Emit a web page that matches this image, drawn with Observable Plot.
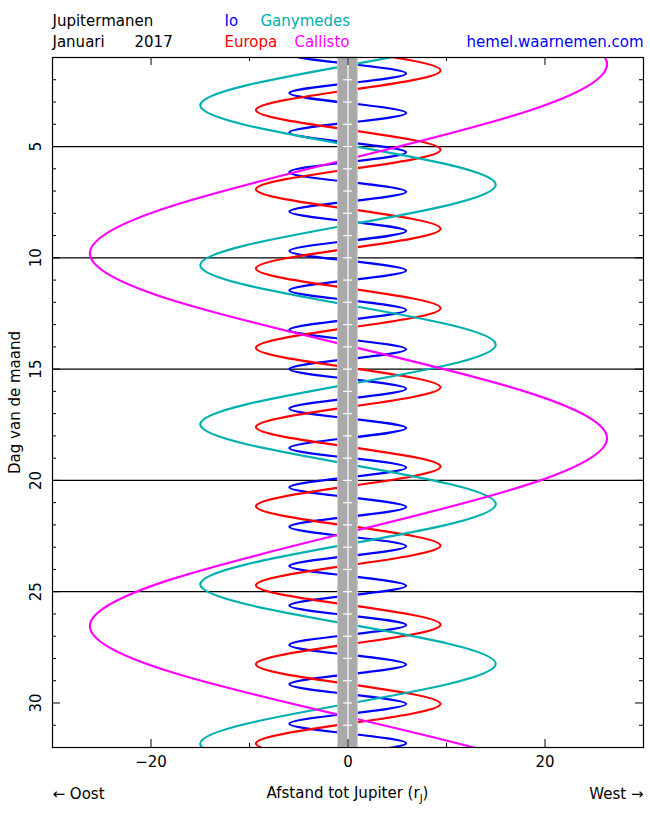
<!DOCTYPE html>
<html><head><meta charset="utf-8">
<script src="https://cdn.jsdelivr.net/npm/d3@7"></script>
<script src="https://cdn.jsdelivr.net/npm/@observablehq/plot@0.6"></script>
<style>body{margin:0;background:#fff} svg{display:block}</style>
</head><body><div id="chart"></div>
<script>
// Moons and colours
const moons = ["Io", "Europa", "Ganymedes", "Callisto"];
const moonColors = ["#0000ff", "#ff0000", "#00b0b0", "#ff00ff"];

// Greatest elongations (first/last two per moon lie just outside the
// plotted month and are estimated): day of January 2017, distance in Jupiter radii (+ = West)
const ioDay = [-0.05, 0.84, 1.72, 2.60, 3.49, 4.37, 5.26, 6.15, 7.03, 7.92, 8.80, 9.69, 10.57, 11.46, 12.34, 13.23, 14.11, 15.00, 15.88, 16.77, 17.65, 18.54, 19.42, 20.31, 21.19, 22.08, 22.96, 23.85, 24.73, 25.62, 26.50, 27.39, 28.27, 29.16, 30.04, 30.93, 31.81, 32.70, 33.58];
const ioX = [5.9, -5.95, 5.9, -5.95, 5.9, -5.95, 5.9, -5.95, 5.9, -5.95, 5.9, -5.95, 5.9, -5.95, 5.9, -5.95, 5.9, -5.95, 5.9, -5.95, 5.9, -5.95, 5.9, -5.95, 5.9, -5.95, 5.9, -5.95, 5.9, -5.95, 5.9, -5.95, 5.9, -5.95, 5.9, -5.95, 5.9, -5.95, 5.9];

const europaDay = [-1.98, -0.20, 1.58, 3.36, 5.14, 6.92, 8.69, 10.48, 12.26, 14.04, 15.82, 17.60, 19.38, 21.16, 22.93, 24.71, 26.48, 28.26, 30.04, 31.82, 33.60, 35.38];
const europaX = [9.4, -9.35, 9.4, -9.35, 9.4, -9.35, 9.4, -9.35, 9.4, -9.35, 9.4, -9.35, 9.4, -9.35, 9.4, -9.35, 9.4, -9.35, 9.4, -9.35, 9.4, -9.35];

const ganymedesDay = [-4.03, -0.45, 3.15, 6.72, 10.33, 13.90, 17.48, 21.06, 24.67, 28.24, 31.83, 35.40, 38.98];
const ganymedesX = [-15.0, 15.0, -15.0, 15.0, -15.0, 15.0, -15.0, 15.0, -15.0, 15.0, -15.0, 15.0, -15.0];

const callistoDay = [-15.7, -7.2, 1.3, 9.8, 18.1, 26.55, 34.7, 43.0];
const callistoX = [26.3, -26.2, 26.3, -26.2, 26.3, -26.2, 26.3, -26.2];

// Axis ticks
const xLabelTicks = [-20, 0, 20];
const xMinorTicks = [-10, 10];
const dayLabelTicks = [5, 10, 15, 20, 25, 30];
const dayGridLines = [5, 10, 15, 20, 25];
const dayMinorTicks = d3.range(2, 32).filter(d => d % 5 !== 0);
const jupiterDayMarks = d3.range(2, 32);
const jupiterDisk = [{x1: -1, x2: 1}];

const series = [
  [moons[0], ioDay, ioX],
  [moons[1], europaDay, europaX],
  [moons[2], ganymedesDay, ganymedesX],
  [moons[3], callistoDay, callistoX]
];
const table = series.flatMap(([moon, days, xs]) => days.map((day, i) => ({moon, day, x: xs[i]})));

const W = 650, H = 813, ML = 52, MR = 7, MT = 57, MB = 66;
const FW = W - ML - MR, FH = H - MT - MB;
const font = "DejaVu Sans";
const fs = 15;
const fmt = d => d < 0 ? "\u2212" + Math.abs(d) : String(d);

const chart = Plot.plot({
  width: W, height: H,
  marginLeft: ML, marginRight: MR, marginTop: MT, marginBottom: MB,
  style: {fontFamily: font, fontSize: fs + "px", background: "#fff"},
  x: {domain: [-30, 30], axis: null},
  y: {domain: [1, 32], reverse: true, axis: null},
  color: {domain: moons, range: moonColors},
  marks: [
    Plot.ruleY(dayGridLines, {y: d => d, stroke: "black", strokeWidth: 1.2}),
    Plot.line(table, {x: "x", y: "day", z: "moon", stroke: "moon", curve: "catmull-rom", strokeWidth: 2.2, clip: true}),
    Plot.rect(jupiterDisk, {x1: "x1", x2: "x2", fill: "#a9a9a9", stroke: "#cfcfcf", strokeWidth: 1}),
    Plot.ruleX([0], {x: d => d, stroke: "white", strokeWidth: 1.2}),
    Plot.ruleY(jupiterDayMarks, {y: d => d, x1: -0.45, x2: 0.45, stroke: "white", strokeWidth: 1.2}),
    Plot.frame({stroke: "black", strokeWidth: 1.2}),
    // inward ticks
    Plot.tickX(xLabelTicks, {x: d => d, insetTop: FH - 8, stroke: "black"}),
    Plot.tickX(xLabelTicks, {x: d => d, insetBottom: FH - 8, stroke: "black"}),
    Plot.tickX(xMinorTicks, {x: d => d, insetTop: FH - 4, stroke: "black"}),
    Plot.tickX(xMinorTicks, {x: d => d, insetBottom: FH - 4, stroke: "black"}),
    Plot.tickY(dayLabelTicks, {y: d => d, insetRight: FW - 8, stroke: "black"}),
    Plot.tickY(dayLabelTicks, {y: d => d, insetLeft: FW - 8, stroke: "black"}),
    Plot.tickY(dayMinorTicks, {y: d => d, insetRight: FW - 4, stroke: "black"}),
    Plot.tickY(dayMinorTicks, {y: d => d, insetLeft: FW - 4, stroke: "black"}),
    // tick labels
    Plot.text(xLabelTicks, {x: d => d, frameAnchor: "bottom", dy: 19, lineAnchor: "bottom", text: fmt, fontSize: fs, fill: "black"}),
    Plot.text(dayLabelTicks, {y: d => d, frameAnchor: "left", dx: -16, rotate: -90, text: fmt, fontSize: fs, textAnchor: "middle", lineAnchor: "middle", fill: "black"}),
    Plot.text(["Dag van de maand"], {frameAnchor: "left", dx: -37, rotate: -90, text: d => d, fontSize: fs, textAnchor: "middle", lineAnchor: "middle", fill: "black"}),
    // header
    Plot.text(["Jupitermanen"], {frameAnchor: "top-left", dy: -32, lineAnchor: "bottom", textAnchor: "start", text: d => d, fontSize: fs, fill: "black"}),
    Plot.text(["Januari"], {frameAnchor: "top-left", dy: -11, lineAnchor: "bottom", textAnchor: "start", text: d => d, fontSize: fs, fill: "black"}),
    Plot.text(["2017"], {frameAnchor: "top-left", dx: 82, dy: -11, lineAnchor: "bottom", textAnchor: "start", text: d => d, fontSize: fs, fill: "black"}),
    Plot.text([moons[0]], {frameAnchor: "top-left", dx: 172, dy: -32, lineAnchor: "bottom", textAnchor: "start", text: d => d, fontSize: fs, fill: moonColors[0]}),
    Plot.text([moons[2]], {frameAnchor: "top-left", dx: 208, dy: -32, lineAnchor: "bottom", textAnchor: "start", text: d => d, fontSize: fs, fill: moonColors[2]}),
    Plot.text([moons[1]], {frameAnchor: "top-left", dx: 172, dy: -11, lineAnchor: "bottom", textAnchor: "start", text: d => d, fontSize: fs, fill: moonColors[1]}),
    Plot.text([moons[3]], {frameAnchor: "top-left", dx: 297, dy: -11, lineAnchor: "bottom", textAnchor: "end", text: d => d, fontSize: fs, fill: moonColors[3]}),
    Plot.text(["hemel.waarnemen.com"], {frameAnchor: "top-right", dy: -11, lineAnchor: "bottom", textAnchor: "end", text: d => d, fontSize: fs, fill: "#0000ff"}),
    // footer
    Plot.text(["\u2190 Oost"], {frameAnchor: "bottom-left", dy: 51, lineAnchor: "bottom", textAnchor: "start", text: d => d, fontSize: fs, fill: "black"}),
    Plot.text(["West \u2192"], {frameAnchor: "bottom-right", dy: 51, lineAnchor: "bottom", textAnchor: "end", text: d => d, fontSize: fs, fill: "black"})
  ]
});

// x-axis title with subscript J
const svg = d3.select(chart);
const t = svg.append("text")
  .attr("x", ML + FW / 2).attr("y", MT + FH + 51)
  .attr("text-anchor", "middle").attr("font-family", font).attr("font-size", fs).attr("fill", "black");
t.append("tspan").text("Afstand tot Jupiter (r");
t.append("tspan").attr("font-size", 10).attr("dy", 4).text("J");
t.append("tspan").attr("dy", -4).text(")");

document.getElementById("chart").appendChild(chart);
</script>
</body></html>
